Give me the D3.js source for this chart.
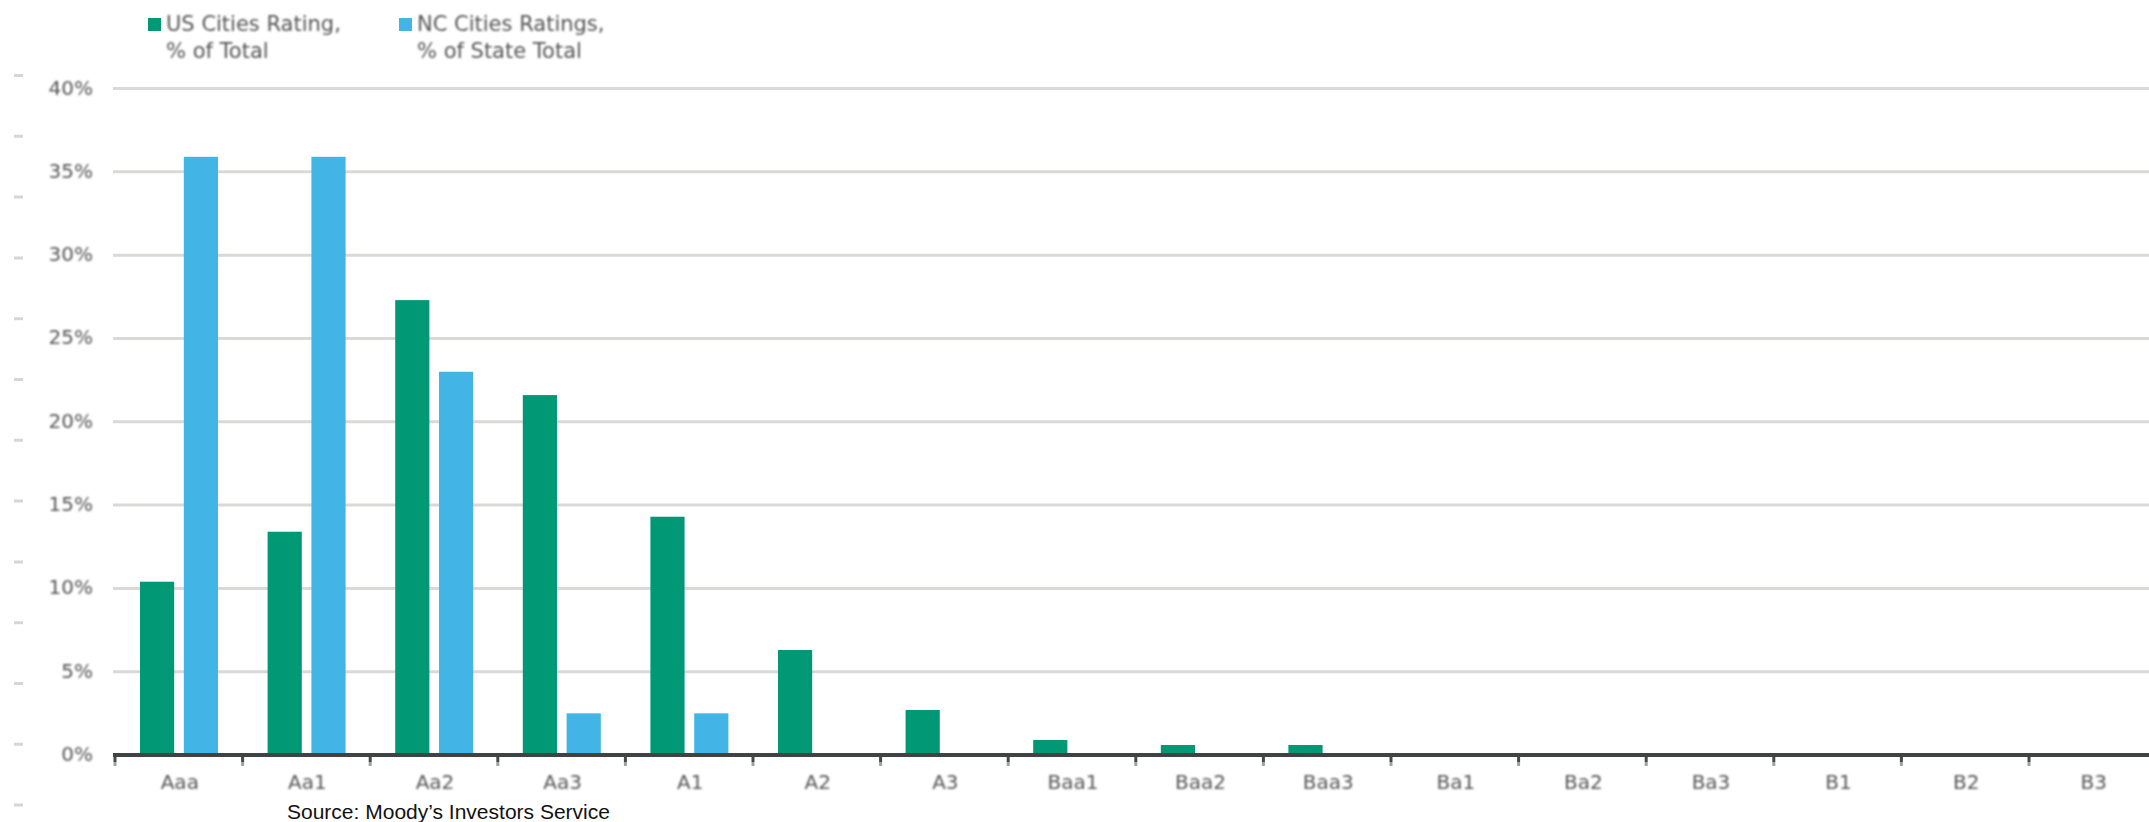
<!DOCTYPE html>
<html>
<head>
<meta charset="utf-8">
<script src="https://cdn.jsdelivr.net/npm/d3@7"></script>
<style>
  html, body { margin: 0; padding: 0; background: #ffffff; overflow: hidden; }
  svg { display: block; }
</style>
</head>
<body>
<svg id="chart" width="2149" height="822"></svg>
<script>
// Rating categories along the x axis
const categories = ["Aaa", "Aa1", "Aa2", "Aa3", "A1", "A2", "A3", "Baa1", "Baa2", "Baa3",
                    "Ba1", "Ba2", "Ba3", "B1", "B2", "B3"];
// US cities, % of total
const usValues = [10.4, 13.4, 27.3, 21.6, 14.3, 6.3, 2.7, 0.9, 0.6, 0.6, 0, 0, 0, 0, 0, 0];
// NC cities, % of state total
const ncValues = [35.9, 35.9, 23.0, 2.5, 2.5, 0, 0, 0, 0, 0, 0, 0, 0, 0, 0, 0];
// Y tick values (percent)
const yTicks = [0, 5, 10, 15, 20, 25, 30, 35, 40];
// Series keys and legend text
const seriesKeys = ["us", "nc"];
const legendLines = [["US Cities Rating,", "% of Total"], ["NC Cities Ratings,", "% of State Total"]];
const seriesColors = ["#019875", "#42B4E6"];
const sourceText = "Source: Moody\u2019s Investors Service";

const W = 2149, H = 822;
const svg = d3.select("#chart");

const defs = svg.append("defs");
defs.append("filter").attr("id", "soft")
  .attr("x", "-10%").attr("y", "-30%").attr("width", "120%").attr("height", "160%")
  .append("feGaussianBlur").attr("stdDeviation", 1.0);

const plotLeft = 115, step = 127.6;
const x = d3.scaleBand().domain(categories)
  .range([plotLeft, plotLeft + step * categories.length]).padding(0);
const x1 = d3.scaleBand().domain(seriesKeys).range([25, 103]).paddingInner(0.22);
const y = d3.scaleLinear().domain([0, 40]).range([755, 88.5]);

// faint dashes down the left edge
svg.append("line")
  .attr("x1", 18.5).attr("x2", 18.5).attr("y1", 74).attr("y2", H)
  .attr("stroke", "#d6d6d6").attr("stroke-width", 9)
  .attr("stroke-dasharray", "3 57.8");

// horizontal gridlines
svg.append("g").selectAll("line")
  .data(yTicks.filter(d => d > 0))
  .join("line")
  .attr("x1", 113).attr("x2", W)
  .attr("y1", d => y(d)).attr("y2", d => y(d))
  .attr("stroke", "#d9d9d7").attr("stroke-width", 3);

// y tick labels
svg.append("g").attr("filter", "url(#soft)")
  .selectAll("text")
  .data(yTicks)
  .join("text")
  .attr("x", 93).attr("y", d => y(d)).attr("dy", "0.3em")
  .attr("text-anchor", "end")
  .attr("font-family", "DejaVu Sans, sans-serif").attr("font-size", 20)
  .attr("fill", "#555")
  .text(d => d + "%");

// bars
const rows = categories.map((c, i) => ({ c, us: usValues[i], nc: ncValues[i] }));
const groups = svg.append("g").selectAll("g")
  .data(rows)
  .join("g")
  .attr("transform", d => `translate(${x(d.c)},0)`);
groups.selectAll("rect")
  .data(d => seriesKeys.map((k, j) => ({ k, j, v: d[k] })).filter(e => e.v > 0))
  .join("rect")
  .attr("x", e => x1(e.k))
  .attr("width", x1.bandwidth())
  .attr("y", e => y(e.v))
  .attr("height", e => y(0) - y(e.v))
  .attr("fill", e => seriesColors[e.j]);

// baseline
svg.append("line")
  .attr("x1", 113).attr("x2", W)
  .attr("y1", y(0)).attr("y2", y(0))
  .attr("stroke", "#404244").attr("stroke-width", 4);

// category ticks
const tickG = svg.append("g").selectAll("g")
  .data(categories)
  .join("g")
  .attr("transform", d => `translate(${x(d)},0)`);
tickG.append("line")
  .attr("x1", 0).attr("x2", 0).attr("y1", y(0) + 2).attr("y2", y(0) + 7)
  .attr("stroke", "#45474a").attr("stroke-width", 3);
tickG.append("line")
  .attr("x1", 0).attr("x2", 0).attr("y1", y(0) + 7).attr("y2", y(0) + 11)
  .attr("stroke", "#a0a0a0").attr("stroke-width", 3);

// category labels
svg.append("g").attr("filter", "url(#soft)")
  .selectAll("text")
  .data(categories)
  .join("text")
  .attr("x", d => x(d) + step / 2 + 1).attr("y", 789)
  .attr("text-anchor", "middle")
  .attr("font-family", "DejaVu Sans, sans-serif").attr("font-size", 20)
  .attr("fill", "#555")
  .text(d => d);

// legend
const legendX = [148, 399];
const legend = svg.append("g").selectAll("g")
  .data(seriesKeys)
  .join("g")
  .attr("transform", (d, i) => `translate(${legendX[i]},0)`);
legend.append("rect")
  .attr("x", 0).attr("y", 18).attr("width", 13).attr("height", 13)
  .attr("fill", (d, i) => seriesColors[i]);
legend.append("text")
  .attr("filter", "url(#soft)")
  .attr("font-family", "DejaVu Sans, sans-serif").attr("font-size", 21)
  .attr("fill", "#555")
  .selectAll("tspan")
  .data((d, i) => legendLines[i])
  .join("tspan")
  .attr("x", 18)
  .attr("y", (t, k) => 31 + k * 27)
  .text(t => t);

// source note
svg.append("text")
  .attr("x", 287).attr("y", 819)
  .attr("font-family", "Liberation Sans, Arial, sans-serif").attr("font-size", 21)
  .attr("fill", "#111")
  .text(sourceText);
</script>
</body>
</html>
